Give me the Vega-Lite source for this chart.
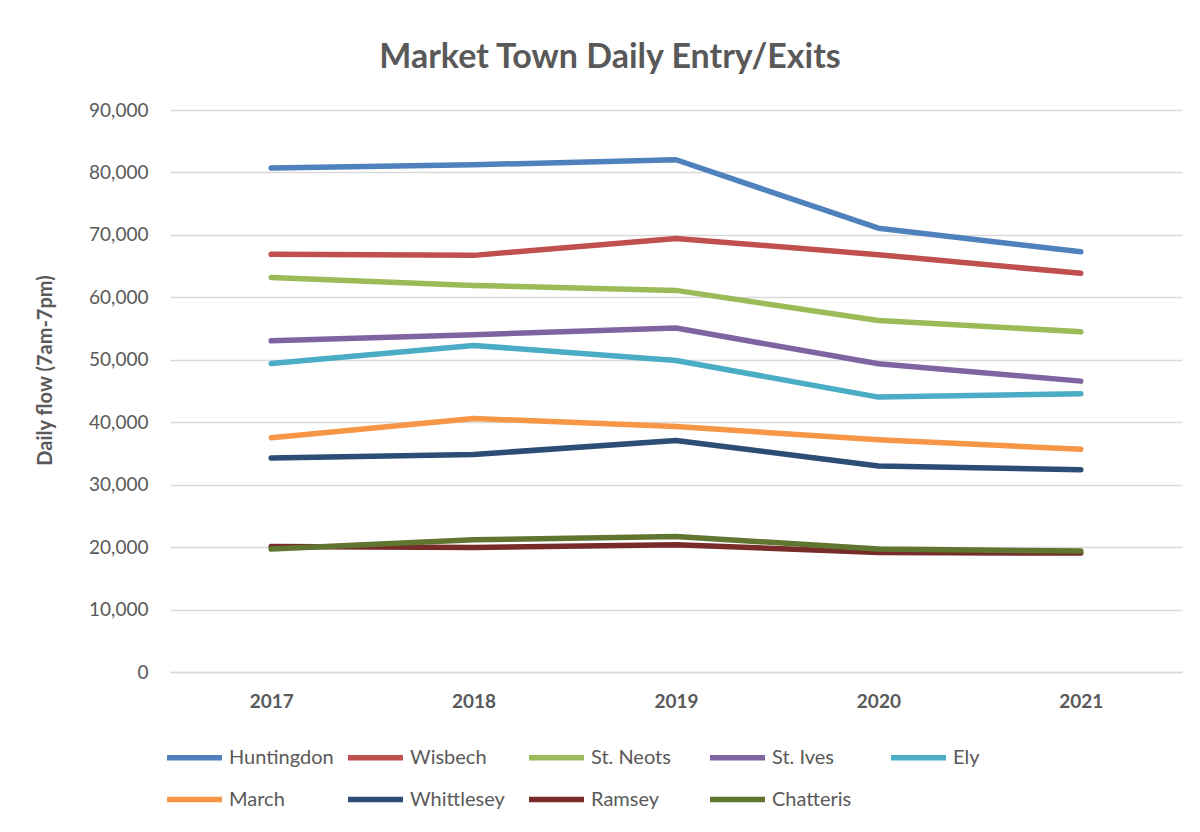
{
  "$schema": "https://vega.github.io/schema/vega-lite/v6.json",
  "autosize": "none",
  "width": 1012,
  "height": 562,
  "padding": {"left": 170, "top": 110, "right": 18, "bottom": 160},
  "background": "white",
  "title": {
    "text": "Market Town Daily Entry/Exits",
    "font": "Lato",
    "fontSize": 34,
    "fontWeight": "bold",
    "color": "#595959",
    "anchor": "middle",
    "frame": "group",
    "dx": -66,
    "offset": 26
  },
  "data": {
    "values": [
      {"town": "Huntingdon", "year": "2017", "flow": 80700},
      {"town": "Huntingdon", "year": "2018", "flow": 81230},
      {"town": "Huntingdon", "year": "2019", "flow": 82030},
      {"town": "Huntingdon", "year": "2020", "flow": 71080},
      {"town": "Huntingdon", "year": "2021", "flow": 67290},
      {"town": "Wisbech", "year": "2017", "flow": 66880},
      {"town": "Wisbech", "year": "2018", "flow": 66720},
      {"town": "Wisbech", "year": "2019", "flow": 69440},
      {"town": "Wisbech", "year": "2020", "flow": 66830},
      {"town": "Wisbech", "year": "2021", "flow": 63840},
      {"town": "St. Neots", "year": "2017", "flow": 63190},
      {"town": "St. Neots", "year": "2018", "flow": 61910},
      {"town": "St. Neots", "year": "2019", "flow": 61110},
      {"town": "St. Neots", "year": "2020", "flow": 56300},
      {"town": "St. Neots", "year": "2021", "flow": 54490},
      {"town": "St. Ives", "year": "2017", "flow": 53040},
      {"town": "St. Ives", "year": "2018", "flow": 54010},
      {"town": "St. Ives", "year": "2019", "flow": 55080},
      {"town": "St. Ives", "year": "2020", "flow": 49360},
      {"town": "St. Ives", "year": "2021", "flow": 46580},
      {"town": "Ely", "year": "2017", "flow": 49410},
      {"town": "Ely", "year": "2018", "flow": 52300},
      {"town": "Ely", "year": "2019", "flow": 49890},
      {"town": "Ely", "year": "2020", "flow": 44020},
      {"town": "Ely", "year": "2021", "flow": 44550},
      {"town": "March", "year": "2017", "flow": 37500},
      {"town": "March", "year": "2018", "flow": 40600},
      {"town": "March", "year": "2019", "flow": 39320},
      {"town": "March", "year": "2020", "flow": 37180},
      {"town": "March", "year": "2021", "flow": 35690},
      {"town": "Whittlesey", "year": "2017", "flow": 34290},
      {"town": "Whittlesey", "year": "2018", "flow": 34830},
      {"town": "Whittlesey", "year": "2019", "flow": 37070},
      {"town": "Whittlesey", "year": "2020", "flow": 33000},
      {"town": "Whittlesey", "year": "2021", "flow": 32400},
      {"town": "Ramsey", "year": "2017", "flow": 20100},
      {"town": "Ramsey", "year": "2018", "flow": 19950},
      {"town": "Ramsey", "year": "2019", "flow": 20370},
      {"town": "Ramsey", "year": "2020", "flow": 19150},
      {"town": "Ramsey", "year": "2021", "flow": 19040},
      {"town": "Chatteris", "year": "2017", "flow": 19680},
      {"town": "Chatteris", "year": "2018", "flow": 21175},
      {"town": "Chatteris", "year": "2019", "flow": 21710},
      {"town": "Chatteris", "year": "2020", "flow": 19680},
      {"town": "Chatteris", "year": "2021", "flow": 19360}
    ]
  },
  "mark": {"type": "line", "strokeWidth": 5.5, "strokeCap": "round", "strokeJoin": "round"},
  "encoding": {
    "x": {
      "field": "year",
      "type": "ordinal",
      "scale": {"type": "point", "padding": 0.5},
      "axis": {
        "title": null,
        "labelAngle": 0,
        "labelFont": "Lato",
        "labelFontSize": 19,
        "labelFontWeight": "bold",
        "labelColor": "#595959",
        "labelPadding": 20,
        "ticks": false,
        "domain": true,
        "domainColor": "#d9d9d9",
        "domainWidth": 1.5,
        "grid": false
      }
    },
    "y": {
      "field": "flow",
      "type": "quantitative",
      "scale": {"domain": [0, 90000], "nice": false},
      "axis": {
        "title": "Daily flow (7am-7pm)",
        "titleFont": "Lato",
        "titleFontSize": 20,
        "titleFontWeight": "bold",
        "titleColor": "#595959",
        "titleX": -125,
        "titleY": 260,
        "titleAngle": -90,
        "titleAlign": "center",
        "titleBaseline": "middle",
        "values": [0, 10000, 20000, 30000, 40000, 50000, 60000, 70000, 80000, 90000],
        "format": ",d",
        "labelFont": "Lato",
        "labelFontSize": 19,
        "labelColor": "#595959",
        "labelPadding": 22,
        "ticks": false,
        "domain": false,
        "grid": true,
        "gridColor": "#d9d9d9",
        "gridWidth": 1.5
      }
    },
    "color": {
      "field": "town",
      "type": "nominal",
      "scale": {
        "domain": ["Huntingdon", "Wisbech", "St. Neots", "St. Ives", "Ely", "March", "Whittlesey", "Ramsey", "Chatteris"],
        "range": ["#4F81BD", "#C0504D", "#9BBB59", "#8064A2", "#4BACC6", "#F79646", "#2C4D75", "#772C2A", "#5F7530"]
      },
      "legend": {
        "title": null,
        "orient": "none",
        "legendX": -6,
        "legendY": 617,
        "direction": "horizontal",
        "columns": 5,
        "gridAlign": "all",
        "columnPadding": 3,
        "rowPadding": -6,
        "symbolType": "stroke",
        "symbolSize": 3025,
        "symbolStrokeWidth": 5.5,
        "labelFont": "Lato",
        "labelFontSize": 20,
        "labelColor": "#595959",
        "labelOffset": 4
      }
    }
  },
  "config": {"view": {"stroke": null}}
}
